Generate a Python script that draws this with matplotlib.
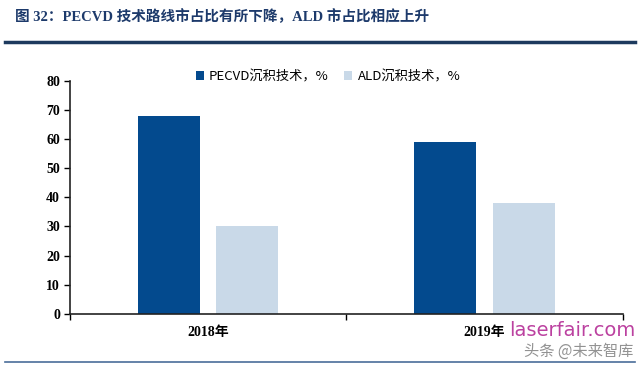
import matplotlib
matplotlib.use("Agg")
import matplotlib.pyplot as plt
import numpy as np

# data
years = ["2018年", "2019年"]
pecvd = [67.8, 59.0]
ald = [30.0, 38.0]
series_names = ["PECVD沉积技术，%", "ALD沉积技术，%"]
y_ticks = [0, 10, 20, 30, 40, 50, 60, 70, 80]
title = "图 32：PECVD 技术路线市占比有所下降，ALD 市占比相应上升"

SERIF = ["Liberation Serif", "Noto Sans CJK SC"]
SANS = ["Liberation Sans Narrow", "Noto Sans CJK SC", "DejaVu Sans"]
C_DARK = "#034a8e"
C_LIGHT = "#c9d9e8"

plt.rcParams["font.family"] = SANS

fig = plt.figure(figsize=(6.4, 3.65), dpi=100)
ax = fig.add_axes([0.109, 0.140, 0.864, 0.639])

x = np.arange(len(years))
width = 0.224
off = 0.142
ax.bar(x - off, pecvd, width=width, color=C_DARK, label=series_names[0])
ax.bar(x + off, ald, width=width, color=C_LIGHT, label=series_names[1])

ax.set_xlim(-0.5, len(years) - 0.5)
ax.set_ylim(0, 80)
ax.set_yticks(y_ticks)
ax.set_yticklabels([str(v) for v in y_ticks], family=SERIF, fontweight="bold", fontsize=10)

# boundary ticks (unlabelled) and category labels
ax.set_xticks(np.arange(len(years) + 1) - 0.5)
ax.set_xticklabels([])
ax.set_xticks(x, minor=True)
ax.set_xticklabels(years, minor=True, family=SERIF, fontweight="bold", fontsize=10)
ax.tick_params(axis="x", which="minor", length=0, pad=9)
ax.tick_params(axis="x", which="major", length=4, width=1, direction="out")
ax.tick_params(axis="y", length=4, width=1, direction="out", pad=3)

for s in ["top", "right"]:
    ax.spines[s].set_visible(False)
for s in ["left", "bottom"]:
    ax.spines[s].set_linewidth(1.2)
    ax.spines[s].set_color("#222222")

leg = ax.legend(loc="center", bbox_to_anchor=(0.467, 1.018), ncol=2, frameon=False,
                fontsize=9.5, handlelength=0.6, handleheight=0.6, handletextpad=0.4,
                columnspacing=1.2)

# title and rules
fig.text(0.024, 0.955, title, family=SERIF, fontweight="bold", fontsize=10.5,
         color="#1d3a6b", va="center", ha="left")
fig.add_artist(plt.Line2D([0.008, 0.992], [0.885, 0.885], color="#1d3a5e", lw=2.5))
fig.add_artist(plt.Line2D([0.008, 0.992], [0.008, 0.008], color="#4a6d9a", lw=1.2))

# watermark
fig.text(0.993, 0.095, "laserfair.com", color="#b0208f", fontsize=14, ha="right",
         va="center", family="DejaVu Sans", alpha=0.85)
fig.text(0.99, 0.037, "头条 @未来智库", color="#777777", fontsize=11, ha="right",
         va="center", family=["Noto Sans CJK SC"], alpha=0.8)

fig.savefig("out.png", dpi=100)
